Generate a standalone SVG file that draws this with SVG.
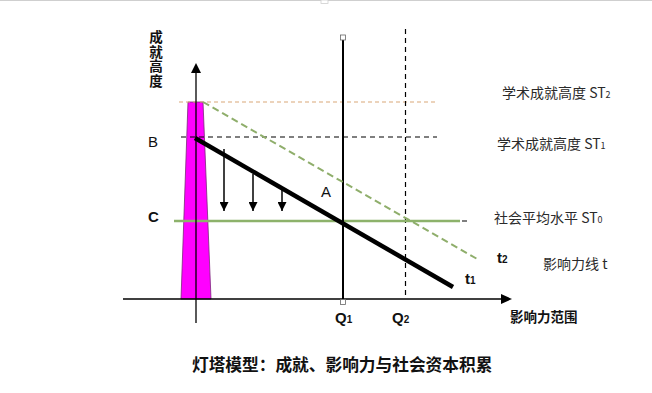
<svg xmlns="http://www.w3.org/2000/svg" width="652" height="393" viewBox="0 0 652 393">
<defs>
<style>
.cjk{font-family:"Noto Sans CJK SC","Liberation Sans",sans-serif;}
.lbl{font-family:"Noto Sans CJK SC","Liberation Sans",sans-serif;font-size:14px;fill:#2a2a2a;}
.lat{font-family:"Liberation Sans","Noto Sans",sans-serif;}
.dash{stroke:#000;stroke-width:1.2;stroke-dasharray:5 4;fill:none;}
.ax{stroke:#000;stroke-width:1.3;fill:none;}
.down{stroke:#000;stroke-width:1.5;fill:none;marker-end:url(#ah);}
</style>
<marker id="ah" viewBox="0 0 10 10" refX="10" refY="5" markerWidth="6" markerHeight="6" markerUnits="strokeWidth" orient="auto">
<path d="M0,0 L10,5 L0,10 z" fill="#000"/>
</marker>
</defs>
<rect width="652" height="393" fill="#fff"/>
<line x1="0" y1="0.5" x2="652" y2="0.5" stroke="#cfcfcf" stroke-width="1.2"/>
<rect x="321" y="0" width="7" height="3.5" fill="#fff" stroke="#cfcfcf" stroke-width="0.8"/>

<g id="lighthouse">
<polygon points="188,102 203,102 211,299 181,299" fill="#ff00ff" stroke="#7a2a7a" stroke-width="0.8"/>
</g>

<g id="reference-lines">
<line x1="179" y1="102" x2="437" y2="102" stroke="#d9a878" stroke-width="1.2" stroke-dasharray="4 3"/>
<line class="dash" x1="181" y1="137" x2="437" y2="137"/>
<line class="dash" x1="405.5" y1="29" x2="405.5" y2="299"/>
<line class="dash" x1="174" y1="221" x2="469" y2="221"/>
<line x1="174" y1="221" x2="460" y2="221" stroke="#8db26b" stroke-width="2.5"/>
</g>

<g id="axes">
<line class="ax" x1="196" y1="72" x2="196" y2="323"/>
<polygon points="196,63 191,73 201,73" fill="#000"/>
<line class="ax" x1="123" y1="299" x2="502" y2="299"/>
<polygon points="512,299 501,294 501,304" fill="#000"/>
</g>

<g id="q1-line">
<line x1="343" y1="40" x2="343" y2="299" stroke="#000" stroke-width="2"/>
<rect x="340.5" y="35" width="5" height="5" fill="#fff" stroke="#666" stroke-width="0.8"/>
<rect x="340.5" y="299.5" width="5" height="5" fill="#fff" stroke="#666" stroke-width="0.8"/>
</g>

<g id="connectors">
<line x1="203" y1="102" x2="479" y2="260" stroke="#8fae6b" stroke-width="2" stroke-dasharray="7 4"/>
<line x1="195" y1="138" x2="453" y2="287" stroke="#000" stroke-width="4.5"/>
<line class="down" x1="224" y1="149" x2="224" y2="211"/>
<line class="down" x1="253" y1="174" x2="253" y2="211"/>
<line class="down" x1="282" y1="188" x2="282" y2="211"/>
</g>

<g id="y-title">
<text class="cjk" x="156" y="30" font-size="13.5" font-weight="bold" fill="#111" writing-mode="tb" letter-spacing="1.2">成就高度</text>
</g>

<g id="point-labels">
<text class="lat" x="148" y="147" font-size="15" fill="#111">B</text>
<text class="lat" x="148" y="222" font-size="15" font-weight="bold" fill="#111">C</text>
<text class="lat" x="321" y="197" font-size="15" fill="#111">A</text>
<text class="lat" x="335" y="323" font-size="15" font-weight="bold" fill="#111">Q<tspan font-size="10">1</tspan></text>
<text class="lat" x="392" y="323" font-size="15" font-weight="bold" fill="#111">Q<tspan font-size="10">2</tspan></text>
<text class="lat" x="497" y="263" font-size="15" font-weight="bold" fill="#111">t<tspan font-size="10">2</tspan></text>
<text class="lat" x="465" y="284" font-size="15" font-weight="bold" fill="#111">t<tspan font-size="10">1</tspan></text>
</g>

<g id="legend">
<text class="lbl" x="502" y="98">学术成就高度 ST<tspan font-size="9">2</tspan></text>
<text class="lbl" x="497" y="149">学术成就高度 ST<tspan font-size="9">1</tspan></text>
<text class="lbl" x="494" y="223">社会平均水平 ST<tspan font-size="9">0</tspan></text>
<text class="lbl" x="543" y="269" font-size="13.5">影响力线 t</text>
<text class="cjk" x="510" y="322" font-size="13.5" font-weight="bold" fill="#111">影响力范围</text>
</g>

<g id="caption">
<text class="cjk" x="192" y="371" font-size="16.7" font-weight="bold" fill="#111">灯塔模型：成就、影响力与社会资本积累</text>
</g>
</svg>
